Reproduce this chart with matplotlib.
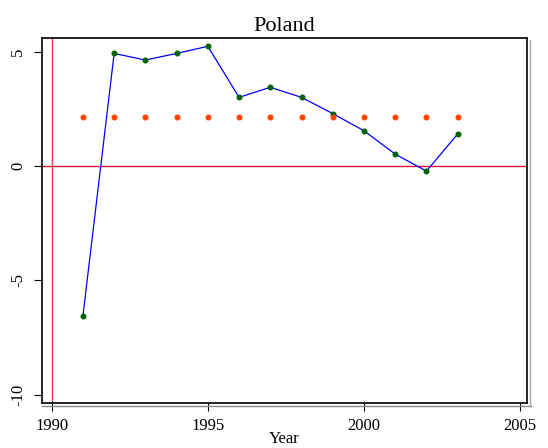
import matplotlib.pyplot as plt
from matplotlib.lines import Line2D

plt.rcParams['font.family'] = ['Liberation Serif', 'DejaVu Serif']

# data
years = [1991, 1992, 1993, 1994, 1995, 1996, 1997, 1998, 1999, 2000, 2001, 2002, 2003]
values = [-6.55, 4.92, 4.63, 4.92, 5.23, 3.0, 3.44, 3.0, 2.29, 1.54, 0.52, -0.22, 1.40]
mean_line = [2.14] * len(years)

xticks = [1990, 1995, 2000, 2005]
yticks = [-10, -5, 0, 5]

fig = plt.figure(figsize=(5.48, 4.48), dpi=100)
ax = fig.add_axes([0.0761, 0.1011, 0.8856, 0.8134])

ax.axvline(1990, color='#dc143c', lw=1, alpha=0.8, zorder=1)
ax.axhline(0, color='#dc143c', lw=1, zorder=1)

ax.plot(years, values, color='blue', lw=0.9, zorder=2)
ax.plot(years, values, 'o', color='#006400', ms=3.3, zorder=3)
ax.plot(years, mean_line, 'o', color='#ff4500', ms=3.3, zorder=3)

ax.set_xlim(1989.68, 2005.22)
ax.set_ylim(-10.34, 5.58)
ax.set_xticks(xticks)
ax.set_yticks(yticks)
ax.set_yticklabels([str(t) for t in yticks], rotation=90, va='center')

for s in ax.spines.values():
    s.set_linewidth(1.2)
    s.set_color('black')

ax.tick_params(axis='x', direction='out', length=6, width=0.8, pad=5, labelsize=12)
ax.tick_params(axis='y', direction='out', length=6, width=0.8, pad=5, labelsize=12)

ax.set_xlabel('Year', fontsize=12, labelpad=-2)
ax.set_title('Poland', fontsize=16, pad=5)

# gray shadow lines like the original
fig.add_artist(Line2D([41.7 / 548, 531 / 548], [1 - 405.5 / 448, 1 - 405.5 / 448],
                      color='#888888', lw=1.0))
fig.add_artist(Line2D([529.5 / 548, 529.5 / 548], [1 - 40 / 448, 1 - 405.5 / 448],
                      color='#aaaaaa', lw=1.0))

fig.savefig('out.png', dpi=100)
